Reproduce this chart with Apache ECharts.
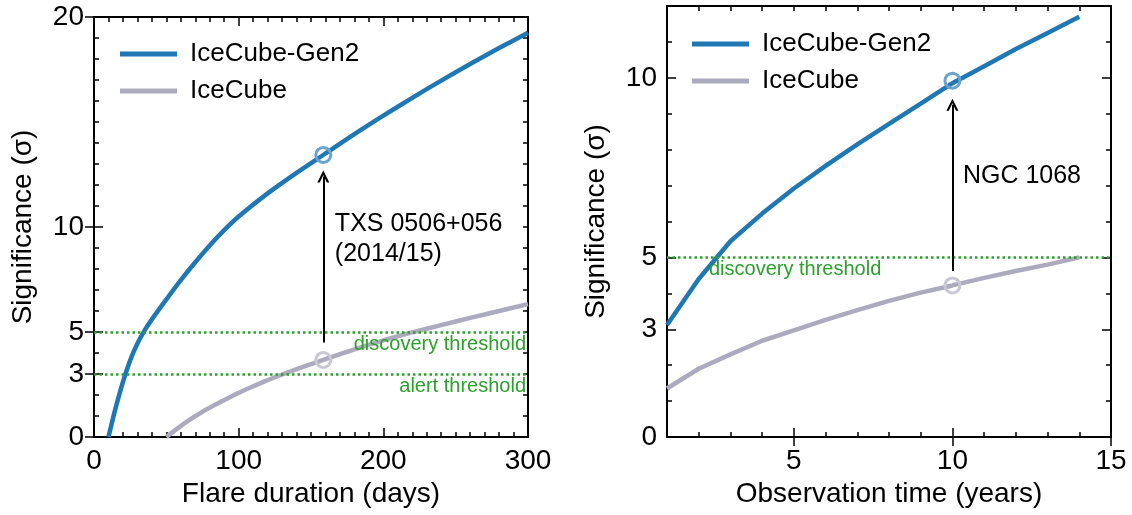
<!DOCTYPE html>
<html>
<head>
<meta charset="utf-8">
<script src="https://cdn.jsdelivr.net/npm/echarts@6/dist/echarts.min.js"></script>
<style>
html,body{margin:0;padding:0;background:#fff;}
#chart{width:1132px;height:515px;}
</style>
</head>
<body>
<div id="chart"></div>
<script>
// ---------- DATA ----------
// Left panel: significance vs flare duration (days)
const gen2Days = [10, 15, 20, 25, 30, 35, 40, 50, 60, 70, 80, 90, 100, 120, 140, 160, 180, 200, 220, 240, 260, 280, 300];
const gen2SigDays = [0, 1.4, 2.62, 3.65, 4.45, 5.08, 5.6, 6.55, 7.47, 8.32, 9.12, 9.85, 10.5, 11.6, 12.58, 13.5, 14.42, 15.3, 16.15, 16.97, 17.76, 18.52, 19.25];
const icDays = [50, 58, 66, 75, 85, 95, 105, 118, 131, 145, 158.5, 180, 200, 220, 240, 260, 280, 300];
const icSigDays = [0, 0.42, 0.81, 1.2, 1.58, 1.93, 2.26, 2.65, 3.0, 3.35, 3.67, 4.17, 4.6, 4.98, 5.33, 5.67, 6.0, 6.33];
// Right panel: significance vs observation time (years)
const years = [1, 2, 3, 4, 5, 6, 7, 8, 9, 10, 11, 12, 13, 14];
const gen2SigYears = [3.12, 4.4, 5.45, 6.22, 6.92, 7.55, 8.15, 8.72, 9.28, 9.85, 10.32, 10.8, 11.25, 11.7];
const icSigYears = [1.35, 1.9, 2.3, 2.68, 2.97, 3.26, 3.53, 3.79, 4.02, 4.22, 4.43, 4.62, 4.8, 5.0];
// Highlighted sources
const txsDays = 158.5, txsGen2 = 13.43, txsIc = 3.67;
const ngcYears = 10, ngcGen2 = 9.92, ngcIc = 4.22;
// Arrow ranges (from, to)
const txsArrow = [4.5, 12.4];
const ngcArrow = [4.62, 9.25];
// Thresholds
const discovery = 5, alert = 3;
// Tick labels
const leftYLabels = [0, 3, 5, 10, 20];
const rightYLabels = [0, 3, 5, 10];
const rightXLabels = [5, 10, 15];
const seriesNames = ['IceCube-Gen2', 'IceCube'];
const annTxs = 'TXS 0506+056\n(2014/15)';
const annNgc = 'NGC 1068';

// ---------- STYLE ----------
const FONT = 'Liberation Sans, Arial, Helvetica, sans-serif';
const BLUE = '#1f77b4', GRAY = '#acabbe', GREEN = '#2ca02c';
const BLUE_M = '#6aa3cf', GRAY_M = '#c8c7d3';
const arrowPath = 'path://M5,0 L10,10 L8,10 L5,3.8 L2,10 L0,10 Z';

const zip = (a, b) => a.map((v, i) => [v, b[i]]);

function axisBase(extra) {
  return Object.assign({
    type: 'value',
    axisLine: {show: true, onZero: false, lineStyle: {color: '#000', width: 2}},
    axisTick: {show: true, inside: true, length: 5, lineStyle: {color: '#000', width: 1.5}},
    axisLabel: {show: false},
    splitLine: {show: false}
  }, extra);
}
function majorTicks(extra, vals) {
  return Object.assign({
    type: 'value',
    axisLine: {show: false},
    axisTick: {show: true, inside: true, length: 9, customValues: vals, lineStyle: {color: '#000', width: 1.5}},
    axisLabel: {show: false},
    splitLine: {show: false}
  }, extra);
}
const labelStyle = {show: true, color: '#000', fontSize: 28, fontFamily: FONT};
const nameStyle = {color: '#000', fontSize: 28, fontFamily: FONT};

const xAxis = [
  // grid 0
  axisBase({gridIndex: 0, position: 'bottom', min: 0, max: 300, interval: 100,
    axisTick: {show: true, inside: true, length: 9, lineStyle: {color: '#000', width: 1.5}},
    minorTick: {show: true, splitNumber: 10, length: 5, lineStyle: {color: '#000', width: 1.5}},
    axisLabel: Object.assign({margin: 10}, labelStyle),
    name: 'Flare duration (days)', nameLocation: 'middle', nameGap: 43, nameTextStyle: nameStyle}),
  axisBase({gridIndex: 0, position: 'top', min: 0, max: 300, interval: 100,
    axisTick: {show: true, inside: true, length: 9, lineStyle: {color: '#000', width: 1.5}},
    minorTick: {show: true, splitNumber: 10, length: 5, lineStyle: {color: '#000', width: 1.5}}}),
  // grid 1
  axisBase({gridIndex: 1, position: 'bottom', min: 1, max: 15, interval: 1,
    axisLabel: Object.assign({margin: 10, interval: 0,
      formatter: v => rightXLabels.indexOf(v) >= 0 ? String(v) : ''}, labelStyle),
    name: 'Observation time (years)', nameLocation: 'middle', nameGap: 43, nameTextStyle: nameStyle}),
  majorTicks({gridIndex: 1, position: 'bottom', min: 1, max: 15, interval: 1}, rightXLabels),
  axisBase({gridIndex: 1, position: 'top', min: 1, max: 15, interval: 1}),
  majorTicks({gridIndex: 1, position: 'top', min: 1, max: 15, interval: 1}, rightXLabels)
];

const yAxis = [
  // grid 0
  axisBase({gridIndex: 0, position: 'left', min: 0, max: 20, interval: 1,
    axisLabel: Object.assign({margin: 10, interval: 0,
      formatter: v => leftYLabels.indexOf(v) >= 0 ? String(v) : ''}, labelStyle),
    name: 'Significance (σ)', nameLocation: 'middle', nameGap: 57, nameTextStyle: nameStyle}),
  majorTicks({gridIndex: 0, position: 'left', min: 0, max: 20, interval: 1}, leftYLabels),
  axisBase({gridIndex: 0, position: 'right', min: 0, max: 20, interval: 1}),
  majorTicks({gridIndex: 0, position: 'right', min: 0, max: 20, interval: 1}, leftYLabels),
  // grid 1
  axisBase({gridIndex: 1, position: 'left', min: 0, max: 12, interval: 1,
    axisLabel: Object.assign({margin: 10, interval: 0,
      formatter: v => rightYLabels.indexOf(v) >= 0 ? String(v) : ''}, labelStyle),
    name: 'Significance (σ)', nameLocation: 'middle', nameGap: 57, nameTextStyle: nameStyle}),
  majorTicks({gridIndex: 1, position: 'left', min: 0, max: 12, interval: 1}, rightYLabels),
  axisBase({gridIndex: 1, position: 'right', min: 0, max: 12, interval: 1}),
  majorTicks({gridIndex: 1, position: 'right', min: 0, max: 12, interval: 1}, rightYLabels)
];

function threshold(val, text, pos, pad) {
  return {
    yAxis: val, symbol: 'none',
    lineStyle: {color: GREEN, type: [2.5, 3], width: 2.5},
    label: {show: true, formatter: text, position: pos, color: GREEN, fontSize: 20,
      fontFamily: FONT, distance: 2, padding: pad || 0}
  };
}
function arrow(x, y0, y1) {
  return [
    {coord: [x, y0], symbol: 'none', lineStyle: {color: '#000', width: 2, type: 'solid'}, label: {show: false}},
    {coord: [x, y1], symbol: arrowPath, symbolSize: [12, 12]}
  ];
}
const ringStyle = c => ({color: 'rgba(0,0,0,0)', borderColor: c, borderWidth: 3, opacity: 1});
const textLabel = (txt) => ({show: true, position: 'right', distance: 0, formatter: txt, color: '#000',
  fontSize: 25, fontFamily: FONT, lineHeight: 30, align: 'left'});

const series = [
  {type: 'line', name: seriesNames[0], xAxisIndex: 0, yAxisIndex: 0, data: zip(gen2Days, gen2SigDays),
   showSymbol: false, smooth: 0.3, color: BLUE, lineStyle: {width: 4.5, color: BLUE}, z: 3},
  {type: 'line', name: seriesNames[1], xAxisIndex: 0, yAxisIndex: 0, data: zip(icDays, icSigDays),
   showSymbol: false, smooth: 0.3, color: GRAY, lineStyle: {width: 4.5, color: GRAY}, z: 3,
   markLine: {silent: true, animation: false, symbol: 'none', data: [
     threshold(discovery, 'discovery threshold', 'insideEndBottom'),
     threshold(alert, 'alert threshold', 'insideEndBottom'),
     arrow(txsDays, txsArrow[0], txsArrow[1])
   ]}},
  {type: 'scatter', name: 'txs', xAxisIndex: 0, yAxisIndex: 0, symbol: 'circle', symbolSize: 15, z: 4,
   itemStyle: {opacity: 1},
   data: [
     {value: [txsDays, txsGen2], itemStyle: ringStyle(BLUE_M)},
     {value: [txsDays, txsIc], itemStyle: ringStyle(GRAY_M)}
   ]},
  {type: 'scatter', name: 'txsLabel', xAxisIndex: 0, yAxisIndex: 0, symbolSize: 0, silent: true,
   itemStyle: {opacity: 1}, data: [[166.5, 9.4]], label: textLabel(annTxs)},

  {type: 'line', name: seriesNames[0], xAxisIndex: 2, yAxisIndex: 4, data: zip(years, gen2SigYears),
   showSymbol: false, color: BLUE, lineStyle: {width: 4.5, color: BLUE}, z: 3},
  {type: 'line', name: seriesNames[1], xAxisIndex: 2, yAxisIndex: 4, data: zip(years, icSigYears),
   showSymbol: false, color: GRAY, lineStyle: {width: 4.5, color: GRAY}, z: 3,
   markLine: {silent: true, animation: false, symbol: 'none', data: [
     threshold(discovery, 'discovery threshold', 'insideStartBottom', [0, 0, 0, 40]),
     arrow(ngcYears, ngcArrow[0], ngcArrow[1])
   ]}},
  {type: 'scatter', name: 'ngc', xAxisIndex: 2, yAxisIndex: 4, symbol: 'circle', symbolSize: 15, z: 4,
   itemStyle: {opacity: 1},
   data: [
     {value: [ngcYears, ngcGen2], itemStyle: ringStyle(BLUE_M)},
     {value: [ngcYears, ngcIc], itemStyle: ringStyle(GRAY_M)}
   ]},
  {type: 'scatter', name: 'ngcLabel', xAxisIndex: 2, yAxisIndex: 4, symbolSize: 0, silent: true,
   itemStyle: {opacity: 1}, data: [[10.33, 7.26]], label: textLabel(annNgc)}
];

function legend(left, top, gap) {
  return {
    data: seriesNames, left: left, top: top, orient: 'vertical', icon: 'rect',
    itemWidth: 57, itemHeight: 5, itemGap: gap, selectedMode: false,
    textStyle: {color: '#000', fontSize: 26, fontFamily: FONT, lineHeight: 30, padding: [0, 0, 0, 8]}
  };
}

const chart = echarts.init(document.getElementById('chart'), null, {renderer: 'canvas'});
chart.setOption({
  animation: false,
  backgroundColor: '#fff',
  grid: [
    {left: 94, top: 17, width: 434, height: 420},
    {left: 667, top: 6, width: 444, height: 431}
  ],
  legend: [legend(115, 34, 7), legend(687, 24, 7)],
  xAxis: xAxis,
  yAxis: yAxis,
  series: series
});
</script>
</body>
</html>
